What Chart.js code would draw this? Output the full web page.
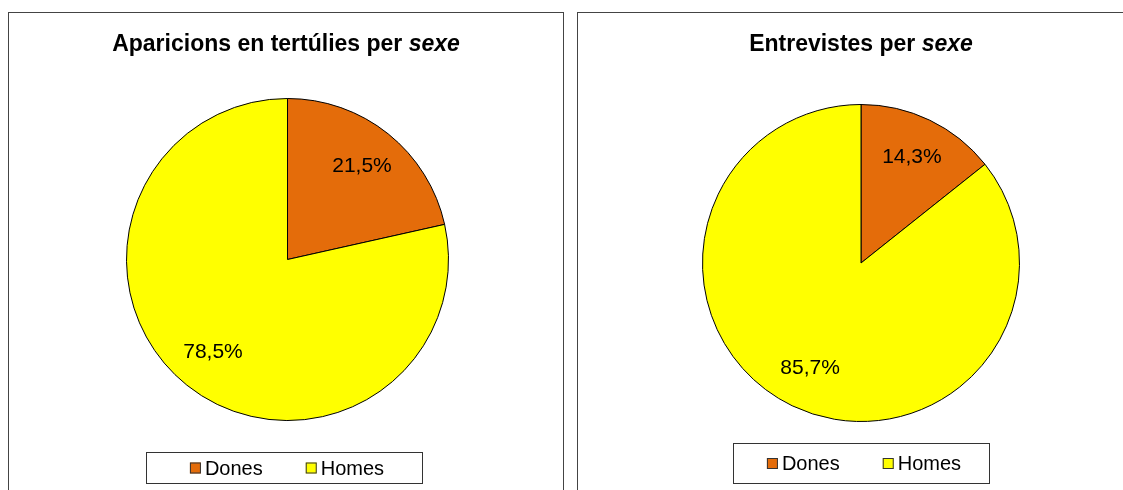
<!DOCTYPE html>
<html>
<head>
<meta charset="utf-8">
<script src="https://cdn.jsdelivr.net/npm/chart.js"></script>
<style>
  body { margin: 0; width: 1123px; height: 490px; overflow: hidden; background: #fff; position: relative; }
  .panel { position: absolute; top: 12px; height: 500px; border: 1px solid #444; background: #fff; }
  .panel canvas { display: block; }
</style>
</head>
<body>
<div class="panel" style="left:8px;width:554px"><canvas id="c1" width="554" height="478" style="width:554px;height:478px"></canvas></div>
<div class="panel" style="left:577px;width:566px"><canvas id="c2" width="566" height="478" style="width:566px;height:478px"></canvas></div>

<script>
// data
const categories = ['Dones', 'Homes'];
const aparicions = [21.5, 78.5];
const entrevistes = [14.3, 85.7];
const sliceColors = ['#E46C0A', '#FFFF00'];

const FONT = '"Liberation Sans", Arial, sans-serif';

// draws the excel-like title (with italic last word), slice labels and boxed legend
const excelText = {
  id: 'excelText',
  afterDraw(chart, args, opts) {
    const ctx = chart.ctx;
    ctx.save();
    ctx.fillStyle = '#000';
    ctx.textBaseline = 'middle';

    // title
    const boldF = 'bold 23px ' + FONT;
    const italF = 'italic bold 23px ' + FONT;
    ctx.font = boldF;
    const w1 = ctx.measureText(opts.title).width;
    ctx.font = italF;
    const w2 = ctx.measureText(opts.titleItalic).width;
    const tx = chart.width / 2 - (w1 + w2) / 2;
    ctx.textAlign = 'left';
    ctx.font = boldF;
    ctx.fillText(opts.title, tx, opts.titleY);
    ctx.font = italF;
    ctx.fillText(opts.titleItalic, tx + w1, opts.titleY);

    // percentage labels inside the slices
    const meta = chart.getDatasetMeta(0);
    const values = chart.data.datasets[0].data;
    ctx.font = '21px ' + FONT;
    ctx.textAlign = 'center';
    meta.data.forEach((arc, i) => {
      const p = arc.getProps(['x', 'y', 'startAngle', 'endAngle', 'outerRadius']);
      const mid = (p.startAngle + p.endAngle) / 2;
      const r = p.outerRadius * 0.74;
      ctx.fillText(values[i].toFixed(1).replace('.', ',') + '%', p.x + Math.cos(mid) * r, p.y + Math.sin(mid) * r);
    });

    // legend box
    const b = opts.legendBox;
    ctx.strokeStyle = '#333';
    ctx.lineWidth = 1;
    ctx.strokeRect(b.x + 0.5, b.y + 0.5, b.w, b.h);
    ctx.font = '20px ' + FONT;
    ctx.textAlign = 'left';
    const labels = chart.data.labels;
    const sq = 11, gap = 4, spacing = 43;
    const widths = labels.map(l => ctx.measureText(l).width);
    let total = 0;
    widths.forEach((w, i) => { total += sq + gap + w + (i < widths.length - 1 ? spacing : 0); });
    let x = b.x + b.w / 2 - total / 2 + 3;
    const cy = b.y + b.h / 2 + 0.5;
    labels.forEach((l, i) => {
      ctx.fillStyle = chart.data.datasets[0].backgroundColor[i];
      ctx.fillRect(x, cy - sq / 2, sq, sq);
      ctx.strokeStyle = '#333';
      ctx.strokeRect(x + 0.5, cy - sq / 2 + 0.5, sq - 1, sq - 1);
      ctx.fillStyle = '#000';
      ctx.fillText(l, x + sq + gap, cy + 1);
      x += sq + gap + widths[i] + spacing;
    });
    ctx.restore();
  }
};

function makePie(id, values, title, titleItalic, padding, legendBox) {
  return new Chart(document.getElementById(id), {
    type: 'pie',
    data: {
      labels: categories,
      datasets: [{
        data: values,
        backgroundColor: sliceColors,
        borderColor: '#000',
        borderWidth: 1
      }]
    },
    options: {
      responsive: false,
      animation: false,
      layout: { padding: padding },
      plugins: {
        legend: { display: false },
        title: { display: false },
        tooltip: { enabled: false },
        excelText: { title: title, titleItalic: titleItalic, titleY: 32, legendBox: legendBox }
      }
    },
    plugins: [excelText]
  });
}

makePie('c1', aparicions, 'Aparicions en tertúlies per ', 'sexe',
  { left: 117, right: 114, top: 85, bottom: 70 },
  { x: 137, y: 439, w: 276, h: 31 });

makePie('c2', entrevistes, 'Entrevistes per ', 'sexe',
  { left: 124, right: 124, top: 91, bottom: 69 },
  { x: 155, y: 430, w: 256, h: 40 });
</script>
</body>
</html>
